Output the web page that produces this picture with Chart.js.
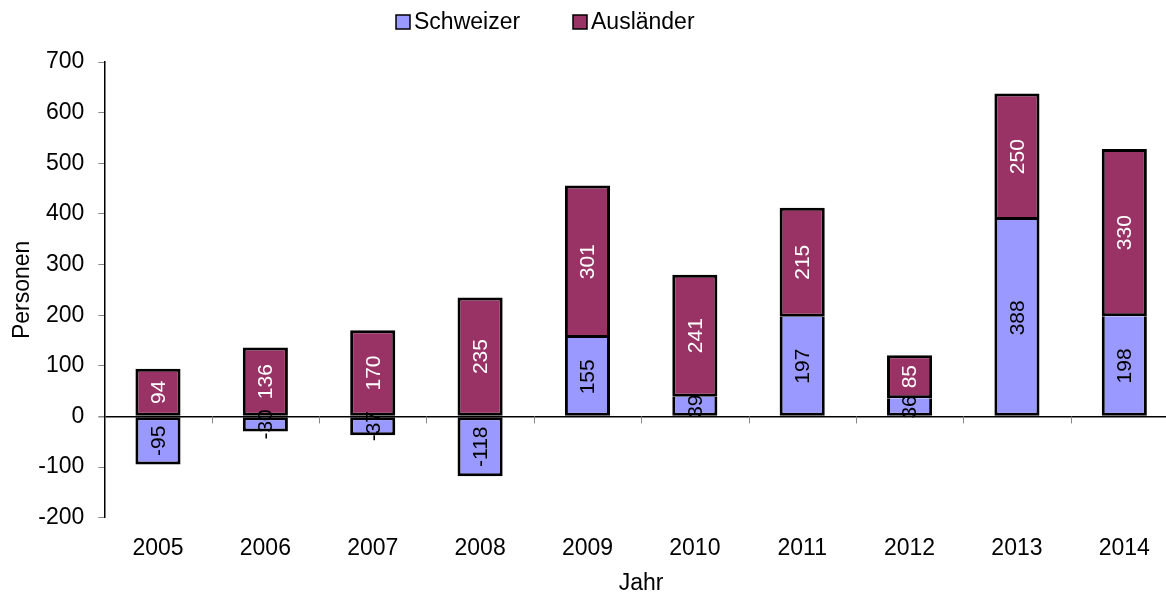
<!DOCTYPE html>
<html>
<head>
<meta charset="utf-8">
<script src="https://cdn.jsdelivr.net/npm/chart.js@4/dist/chart.umd.min.js"></script>
<style>
  html, body { margin: 0; padding: 0; background: #fff; overflow: hidden; }
  #wrap { width: 1180px; height: 593px; }
</style>
</head>
<body>
<div id="wrap"><canvas id="c" width="1180" height="593"></canvas></div>
<script>
// data
var years = ['2005', '2006', '2007', '2008', '2009', '2010', '2011', '2012', '2013', '2014'];
var schweizer = [-95, -30, -37, -118, 155, 39, 197, 36, 388, 198];
var auslaender = [94, 136, 170, 235, 301, 241, 215, 85, 250, 330];
var seriesNames = ['Schweizer', 'Ausländer'];
var yMin = -200, yMax = 700, yStep = 100;

var FONT = '"Liberation Sans", Arial, sans-serif';
var colors = ['#9999FF', '#993366'];
var labelColors = ['#000', '#fff'];

// rotated value labels inside the bars, zero line ticks, legend
var extras = {
  id: 'extras',
  afterDatasetsDraw: function (chart) {
    var ctx = chart.ctx;
    ctx.save();
    ctx.font = '21px ' + FONT;
    ctx.textAlign = 'center';
    ctx.textBaseline = 'middle';
    chart.data.datasets.forEach(function (ds, di) {
      var meta = chart.getDatasetMeta(di);
      meta.data.forEach(function (bar, i) {
        var cy = (bar.y + bar.base) / 2;
        ctx.save();
        ctx.translate(bar.x, cy);
        ctx.rotate(-Math.PI / 2);
        ctx.fillStyle = labelColors[di];
        ctx.fillText(String(ds.data[i]), 0, 1);
        ctx.restore();
      });
    });
    ctx.restore();
  },
  afterDraw: function (chart) {
    var ctx = chart.ctx;
    var y = chart.scales.y;
    var y0 = y.getPixelForValue(0);
    var step = (chart.chartArea.right - chart.chartArea.left) / years.length;
    ctx.save();
    ctx.strokeStyle = '#888';
    ctx.lineWidth = 1;
    for (var k = 1; k < years.length; k++) {
      var px = Math.round(chart.chartArea.left + k * step) + 0.5;
      ctx.beginPath();
      ctx.moveTo(px, y0);
      ctx.lineTo(px, y0 + 7);
      ctx.stroke();
    }
    // legend
    var items = [[396, 414], [573, 591]];
    ctx.font = '23px ' + FONT;
    ctx.textBaseline = 'middle';
    ctx.textAlign = 'left';
    items.forEach(function (it, i) {
      ctx.fillStyle = colors[i];
      ctx.fillRect(it[0], 15, 14, 14);
      ctx.strokeStyle = '#000';
      ctx.lineWidth = 1.5;
      ctx.strokeRect(it[0], 15, 14, 14);
      ctx.fillStyle = '#000';
      ctx.fillText(seriesNames[i], it[1], 23);
    });
    ctx.restore();
  }
};

new Chart(document.getElementById('c'), {
  type: 'bar',
  data: {
    labels: years,
    datasets: [
      {
        label: seriesNames[0], data: schweizer,
        backgroundColor: colors[0], borderColor: '#000', borderWidth: 3,
        // top edge of a positive segment is drawn by the segment above it
        borderSkipped: function (c) { return c.raw > 0 ? 'end' : false; }
      },
      {
        label: seriesNames[1], data: auslaender,
        backgroundColor: colors[1], borderColor: '#000', borderWidth: 3, borderSkipped: false
      }
    ]
  },
  options: {
    responsive: false,
    animation: false,
    layout: { padding: { top: 62, right: 2, left: 0, bottom: 0 } },
    datasets: { bar: { barPercentage: 0.42, categoryPercentage: 1.0 } },
    plugins: { legend: { display: false }, tooltip: { enabled: false } },
    scales: {
      x: {
        stacked: true,
        grid: { display: false, drawTicks: false },
        border: { display: false },
        ticks: { color: '#000', font: { family: FONT, size: 23 }, padding: 17, maxRotation: 0 },
        title: { display: true, text: 'Jahr', color: '#000', font: { family: FONT, size: 23, lineHeight: 1 }, padding: { top: 0, bottom: -2 } },
        afterFit: function (s) { s.height = 75.3; }
      },
      y: {
        stacked: true,
        min: yMin, max: yMax,
        ticks: { stepSize: yStep, color: '#000', font: { family: FONT, size: 23 }, padding: 14 },
        grid: {
          color: function (c) { return c.tick && c.tick.value === 0 ? '#000' : 'rgba(0,0,0,0)'; },
          lineWidth: function (c) { return c.tick && c.tick.value === 0 ? 1.5 : 1; },
          tickColor: '#888', tickLength: 6
        },
        border: { display: true, color: '#000', width: 1.5 },
        title: { display: true, text: 'Personen', color: '#000', font: { family: FONT, size: 23, lineHeight: 1 }, padding: { top: 11, bottom: 0 } },
        afterFit: function (s) { s.width = 104.3; }
      }
    }
  },
  plugins: [extras]
});
</script>
</body>
</html>
